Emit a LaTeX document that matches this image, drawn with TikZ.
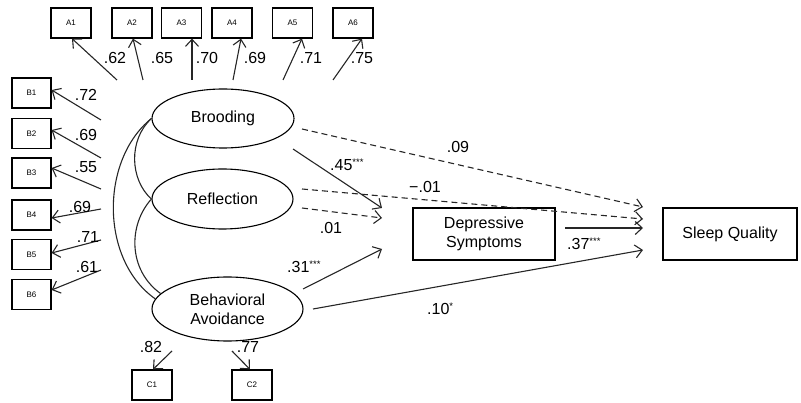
\documentclass[tikz,border=0pt]{standalone}
\usepackage{fontspec}
\setmainfont{Liberation Sans}
\usetikzlibrary{shapes.geometric,arrows.meta}
\newcommand\sigst[1]{\raisebox{5pt}{\fontsize{9.5}{9.5}\selectfont #1}}
\tikzset{
  ind/.style={draw, line width=1.2pt, minimum width=40pt, minimum height=30pt, inner sep=0pt, font=\fontsize{8}{8}\selectfont},
  lat/.style={ellipse, draw, line width=1.1pt, inner sep=0pt, align=center, font=\fontsize{16}{19}\selectfont},
  obs/.style={draw, line width=1.2pt, inner sep=0pt, align=center, font=\fontsize{16}{19}\selectfont},
  lbl/.style={inner sep=0pt, font=\fontsize{16}{19}\selectfont},
  arr/.style={-{Straight Barb[length=7pt,width=13pt]}, line width=1.1pt, color=black!85},
  darr/.style={arr, dash pattern=on 6pt off 4pt},
  cor/.style={line width=1.1pt, color=black!85}
}
\begin{document}
\begin{tikzpicture}[x=1pt, y=-1pt]
\useasboundingbox (0,0) rectangle (801,403);
% indicator boxes
\node[ind] (A1) at (71,23) {A1};
\node[ind] (A2) at (132,23) {A2};
\node[ind] (A3) at (181.5,23) {A3};
\node[ind] (A4) at (232,23) {A4};
\node[ind] (A5) at (292.5,23) {A5};
\node[ind] (A6) at (353,23) {A6};
\node[ind, minimum width=39pt] (B1) at (31.5,93) {B1};
\node[ind, minimum width=39pt] (B2) at (31.5,133.5) {B2};
\node[ind, minimum width=39pt] (B3) at (31.5,173) {B3};
\node[ind, minimum width=39pt] (B4) at (31.5,215) {B4};
\node[ind, minimum width=39pt] (B5) at (31.5,254.5) {B5};
\node[ind, minimum width=39pt] (B6) at (31.5,294.5) {B6};
\node[ind] (C1) at (152,385) {C1};
\node[ind] (C2) at (252,385) {C2};
% latent variables
\node[lat, minimum width=142pt, minimum height=59pt] (Br) at (223,118.5) {Brooding};
\node[lat, minimum width=141pt, minimum height=60pt] (Re) at (222.5,199) {Reflection};
\node[lat, minimum width=151pt, minimum height=64pt] (BA) at (227.5,309) {Behavioral\\Avoidance};
\node[obs, minimum width=142pt, minimum height=52pt] (DS) at (484,234) {Depressive\\Symptoms};
\node[obs, minimum width=134pt, minimum height=52pt] (SQ) at (730,234) {Sleep Quality};
% free ends
\coordinate (a1) at (117,80);
\coordinate (a2) at (143,80);
\coordinate (a3) at (192,80);
\coordinate (a4) at (233,80);
\coordinate (a5) at (283,80);
\coordinate (a6) at (333,80);
\coordinate (b1) at (101,120);
\coordinate (b2) at (101,158);
\coordinate (b3) at (101,189);
\coordinate (b4) at (101,209);
\coordinate (b5) at (101,240);
\coordinate (b6) at (101,270);
\coordinate (c1) at (172,351);
\coordinate (c2) at (232,351);
% loadings
\draw[arr] (a1) -- ([xshift=1pt]A1.south);
\draw[arr] (a2) -- ([xshift=1pt]A2.south);
\draw[arr] (a3) -- ([xshift=10.5pt]A3.south);
\draw[arr] (a4) -- ([xshift=9pt]A4.south);
\draw[arr] (a5) -- ([xshift=9.5pt]A5.south);
\draw[arr] (a6) -- ([xshift=9pt]A6.south);
\draw[arr] (b1) -- ([yshift=3pt]B1.east);
\draw[arr] (b2) -- ([yshift=3.5pt]B2.east);
\draw[arr] (b3) -- ([yshift=5pt]B3.east);
\draw[arr] (b4) -- ([yshift=-3pt]B4.east);
\draw[arr] (b5) -- ([yshift=1.5pt]B5.east);
\draw[arr] (b6) -- ([yshift=4.5pt]B6.east);
\draw[arr] (c1) -- ([xshift=1pt]C1.north);
\draw[arr] (c2) -- ([xshift=-2pt]C2.north);
\node[lbl] (la1) at (115,58) {.62};
\node[lbl] (la2) at (162,58) {.65};
\node[lbl] (la3) at (207,58) {.70};
\node[lbl] (la4) at (255,58) {.69};
\node[lbl] (la5) at (311,58) {.71};
\node[lbl] (la6) at (362,58) {.75};
\node[lbl] (lb1) at (86,95) {.72};
\node[lbl] (lb2) at (86,135) {.69};
\node[lbl] (lb3) at (86,167) {.55};
\node[lbl] (lb4) at (80,207) {.69};
\node[lbl] (lb5) at (88,237) {.71};
\node[lbl] (lb6) at (87,267) {.61};
\node[lbl] (lc1) at (151,347) {.82};
\node[lbl] (lc2) at (248,347) {.77};
% correlations
\draw[cor] (Br.west) .. controls (128,140) and (130,180) .. (Re.west);
\draw[cor] (Br.west) .. controls (100,160) and (100,260) .. (BA.172);
\draw[cor] (Re.west) .. controls (128,225) and (128,270) .. (BA.167);
% structural paths
\coordinate (s1a) at (293,149); \coordinate (s1b) at (382,208);
\coordinate (d1a) at (302,129); \coordinate (d1b) at (643,207);
\coordinate (d2a) at (302,189); \coordinate (d2b) at (643,219);
\coordinate (d3a) at (302,208); \coordinate (d3b) at (382,218);
\coordinate (s2a) at (565,228); \coordinate (s2b) at (643,228);
\coordinate (s3a) at (303,289); \coordinate (s3b) at (382,249);
\coordinate (s4a) at (313,309); \coordinate (s4b) at (643,250);
\draw[arr] (s1a) -- (s1b);
\draw[darr] (d1a) -- (d1b);
\draw[darr] (d2a) -- (d2b);
\draw[darr] (d3a) -- (d3b);
\draw[arr] (s2a) -- (s2b);
\draw[arr] (s3a) -- (s3b);
\draw[arr] (s4a) -- (s4b);
\node[lbl] (l09) at (458,147) {.09};
\node[lbl] (l01n) at (425,187) {−.01};
\node[lbl] (l01) at (331,228) {.01};
\node[lbl, anchor=base west] (l45) at (330,171) {.45\sigst{***}};
\node[lbl, anchor=base west] (l37) at (567,250) {.37\sigst{***}};
\node[lbl, anchor=base west] (l31) at (287,273) {.31\sigst{***}};
\node[lbl, anchor=base west] (l10) at (427,315) {.10\sigst{*}};
\end{tikzpicture}
\end{document}
